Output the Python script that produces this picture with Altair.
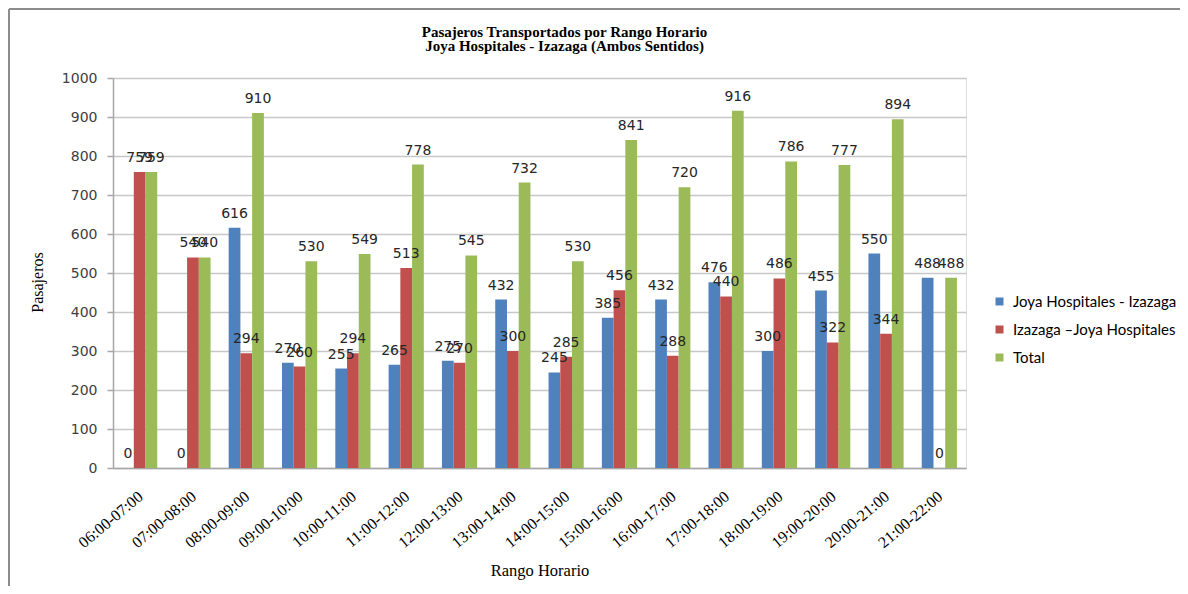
import altair as alt
import pandas as pd

categories = ["06:00-07:00", "07:00-08:00", "08:00-09:00", "09:00-10:00",
              "10:00-11:00", "11:00-12:00", "12:00-13:00", "13:00-14:00",
              "14:00-15:00", "15:00-16:00", "16:00-17:00", "17:00-18:00",
              "18:00-19:00", "19:00-20:00", "20:00-21:00", "21:00-22:00"]
series = ["Joya Hospitales - Izazaga", "Izazaga \u2013Joya Hospitales", "Total"]
joya_izazaga = [0, 0, 616, 270, 255, 265, 275, 432, 245, 385, 432, 476, 300, 455, 550, 488]
izazaga_joya = [759, 540, 294, 260, 294, 513, 270, 300, 285, 456, 288, 440, 486, 322, 344, 0]
total = [759, 540, 910, 530, 549, 778, 545, 732, 530, 841, 720, 916, 786, 777, 894, 488]
colors = ["#4F81BD", "#C0504D", "#9BBB59"]
y_ticks = [0, 100, 200, 300, 400, 500, 600, 700, 800, 900, 1000]

rows = []
for name, vals in zip(series, [joya_izazaga, izazaga_joya, total]):
    for c, v in zip(categories, vals):
        rows.append({"rango": c, "serie": name, "valor": v})
df = pd.DataFrame(rows)

x_enc = alt.X("rango:N", sort=categories,
              scale=alt.Scale(paddingInner=0.34, paddingOuter=0.17),
              axis=alt.Axis(title="Rango Horario", labelAngle=-40, ticks=False,
                            labelPadding=20, labelOffset=-4,
                            labelFont="Liberation Serif", labelFontSize=16,
                            labelColor="#000000", domainColor="#A6A6A6",
                            domainWidth=1.5, grid=False,
                            titleFont="Liberation Serif", titleFontSize=16.5,
                            titleFontWeight="normal", titleColor="#000000",
                            titlePadding=12))
xo_enc = alt.XOffset("serie:N", sort=series,
                     scale=alt.Scale(domain=series, paddingInner=0, paddingOuter=0))
y_enc = alt.Y("valor:Q", scale=alt.Scale(domain=[0, 1000], nice=False),
              axis=alt.Axis(title="Pasajeros", values=y_ticks, format="d",
                            labelOverlap=False, grid=True,
                            gridColor="#C8C8C8", gridWidth=1.5,
                            domainColor="#A6A6A6", domainWidth=1.5,
                            tickColor="#A6A6A6", tickSize=6, tickWidth=1.5,
                            labelFont="DejaVu Sans", labelFontSize=14,
                            labelColor="#404040", labelPadding=10,
                            titleFont="Liberation Serif", titleFontSize=16,
                            titleFontWeight="normal", titleColor="#000000",
                            titlePadding=16, titleY=204))

base = alt.Chart(df)
bars = base.mark_bar().encode(
    x=x_enc, xOffset=xo_enc, y=y_enc,
    color=alt.Color("serie:N", sort=series,
                    scale=alt.Scale(domain=series, range=colors),
                    legend=alt.Legend(title=None, orient="none", legendX=879, legendY=216,
                                      symbolType="square", symbolSize=64,
                                      symbolStrokeWidth=0,
                                      labelFont="Lato", labelFontSize=15,
                                      labelColor="#000000", rowPadding=12,
                                      labelOffset=6, padding=0, labelLimit=300)),
)
labels = base.mark_text(dy=-10, baseline="alphabetic", align="center",
                        font="DejaVu Sans", fontSize=14, color="#262626").encode(
    x=x_enc, xOffset=xo_enc, y=y_enc, text="valor:Q")

frame_df = pd.DataFrame({"k": [0]})
frame_left = alt.Chart(frame_df).mark_rule(color="#8C8C8C", strokeWidth=2).encode(
    x=alt.value(-104), y=alt.value(-69), y2=alt.value(600))
frame_top = alt.Chart(frame_df).mark_rule(color="#8C8C8C", strokeWidth=2).encode(
    x=alt.value(-104), x2=alt.value(1200), y=alt.value(-69))

chart = alt.layer(bars, labels, frame_left, frame_top).properties(
    width=853, height=390,
    title=alt.TitleParams(
        text=["Pasajeros Transportados por Rango Horario",
              "Joya Hospitales - Izazaga (Ambos Sentidos)"],
        font="Liberation Serif", fontSize=15, fontWeight="bold",
        color="#000000", anchor="middle", dx=25, offset=-46, lineHeight=14),
    autosize=alt.AutoSizeParams(type="none"),
    padding={"left": 105, "top": 70, "right": 214, "bottom": 118},
).configure_view(stroke=None).configure(background="#FFFFFF")

chart.save("out.html", embed_options={"renderer": "svg", "actions": False})
